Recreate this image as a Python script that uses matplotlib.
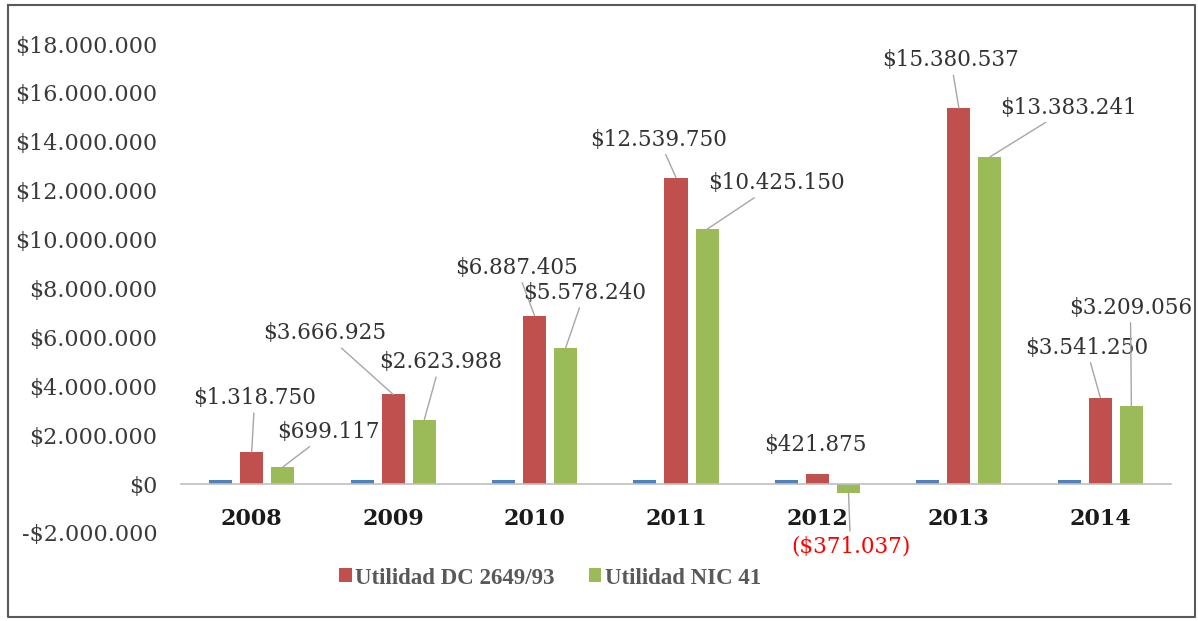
import matplotlib
matplotlib.use("Agg")
import matplotlib.pyplot as plt
import numpy as np
from matplotlib.ticker import FuncFormatter, MultipleLocator
from matplotlib.lines import Line2D

years = ["2008", "2009", "2010", "2011", "2012", "2013", "2014"]
serie_anio = [150000, 150000, 150000, 150000, 150000, 150000, 150000]
utilidad_dc = [1318750, 3666925, 6887405, 12539750, 421875, 15380537, 3541250]
utilidad_nic = [699117, 2623988, 5578240, 10425150, -371037, 13383241, 3209056]
legend_labels = ["Utilidad DC 2649/93", "Utilidad NIC 41"]

C_BLUE = "#4F81BD"
C_RED = "#C0504D"
C_GREEN = "#9BBB59"
TXT = "#333333"

# label offsets in pixels (dx, dy) relative to bar top
off_dc = [(3, 54), (-68, 61), (-18, 48), (-17, 38), (-2, 29), (-8, 48), (-14, 50)]
off_nic = [(46, 35), (16, 58), (19, 55), (69, 46), (2, -53), (79, 49), (-1, 98)]
lead_dc = [True, True, True, True, False, True, True]
lead_nic = [True, True, True, True, True, True, True]

fig = plt.figure(figsize=(11.98, 6.21), dpi=100)
ax = fig.add_axes([181/1198, 1-533/621, (1171-181)/1198, (533-44)/621])

x = np.arange(len(years))
w = 0.163
sp = 0.22
ax.bar(x - sp, serie_anio, w, color=C_BLUE)
b1 = ax.bar(x, utilidad_dc, w, color=C_RED, label=legend_labels[0])
b2 = ax.bar(x + sp, utilidad_nic, w, color=C_GREEN, label=legend_labels[1])

ax.set_xlim(-0.5, len(years) - 0.5)
ax.set_ylim(-2000000, 18000000)
ax.yaxis.set_major_locator(MultipleLocator(2000000))

def fmt(v, pos=None):
    s = f"{abs(v):,.0f}".replace(",", ".")
    return ("-$" if v < 0 else "$") + s
ax.yaxis.set_major_formatter(FuncFormatter(fmt))

for s in ["top", "right", "left"]:
    ax.spines[s].set_visible(False)
ax.spines["bottom"].set_position(("data", 0))
ax.spines["bottom"].set_color("#BFBFBF")
ax.spines["bottom"].set_linewidth(1.2)

ax.set_xticks(x)
ax.set_xticklabels(years, fontfamily="DejaVu Serif", fontweight="bold", fontsize=16, color="#1a1a1a")
ax.tick_params(axis="x", length=0, pad=17)
ax.tick_params(axis="y", length=0, pad=17, labelsize=16, labelcolor="#3a3a3a")
for t in ax.get_yticklabels():
    t.set_fontfamily("DejaVu Serif")

def label(xc, v, off, lead, color):
    txt = fmt(v)
    if v < 0:
        txt = "(" + fmt(-v) + ")"
    ap = dict(arrowstyle="-", color="#A6A6A6", lw=1, shrinkA=1, shrinkB=0) if lead else None
    ax.annotate(txt, xy=(xc, v), xytext=off, textcoords="offset pixels",
                ha="center", va="center", fontsize=15.5, fontfamily="DejaVu Serif",
                color=color, arrowprops=ap)

for i in range(len(years)):
    label(x[i], utilidad_dc[i], off_dc[i], lead_dc[i], TXT)
    label(x[i] + sp, utilidad_nic[i], off_nic[i], lead_nic[i],
          "#FF0000" if utilidad_nic[i] < 0 else TXT)

leg = fig.legend(handles=[b1, b2], loc="center", bbox_to_anchor=(550/1198, 1-578/621),
                 ncol=2, frameon=False, handlelength=0.55, handleheight=0.55,
                 handletextpad=0.15, columnspacing=1.5,
                 prop=dict(family="Liberation Serif", weight="bold", size=16.5))
for t in leg.get_texts():
    t.set_color("#595959")

# outer frame
fr = "#595959"
fig.add_artist(Line2D([8/1198, 1195/1198, 1195/1198, 8/1198, 8/1198],
                      [1-5/621, 1-5/621, 1-617/621, 1-617/621, 1-5/621],
                      transform=fig.transFigure, color=fr, lw=1.5))

fig.savefig("out.png", dpi=100)
